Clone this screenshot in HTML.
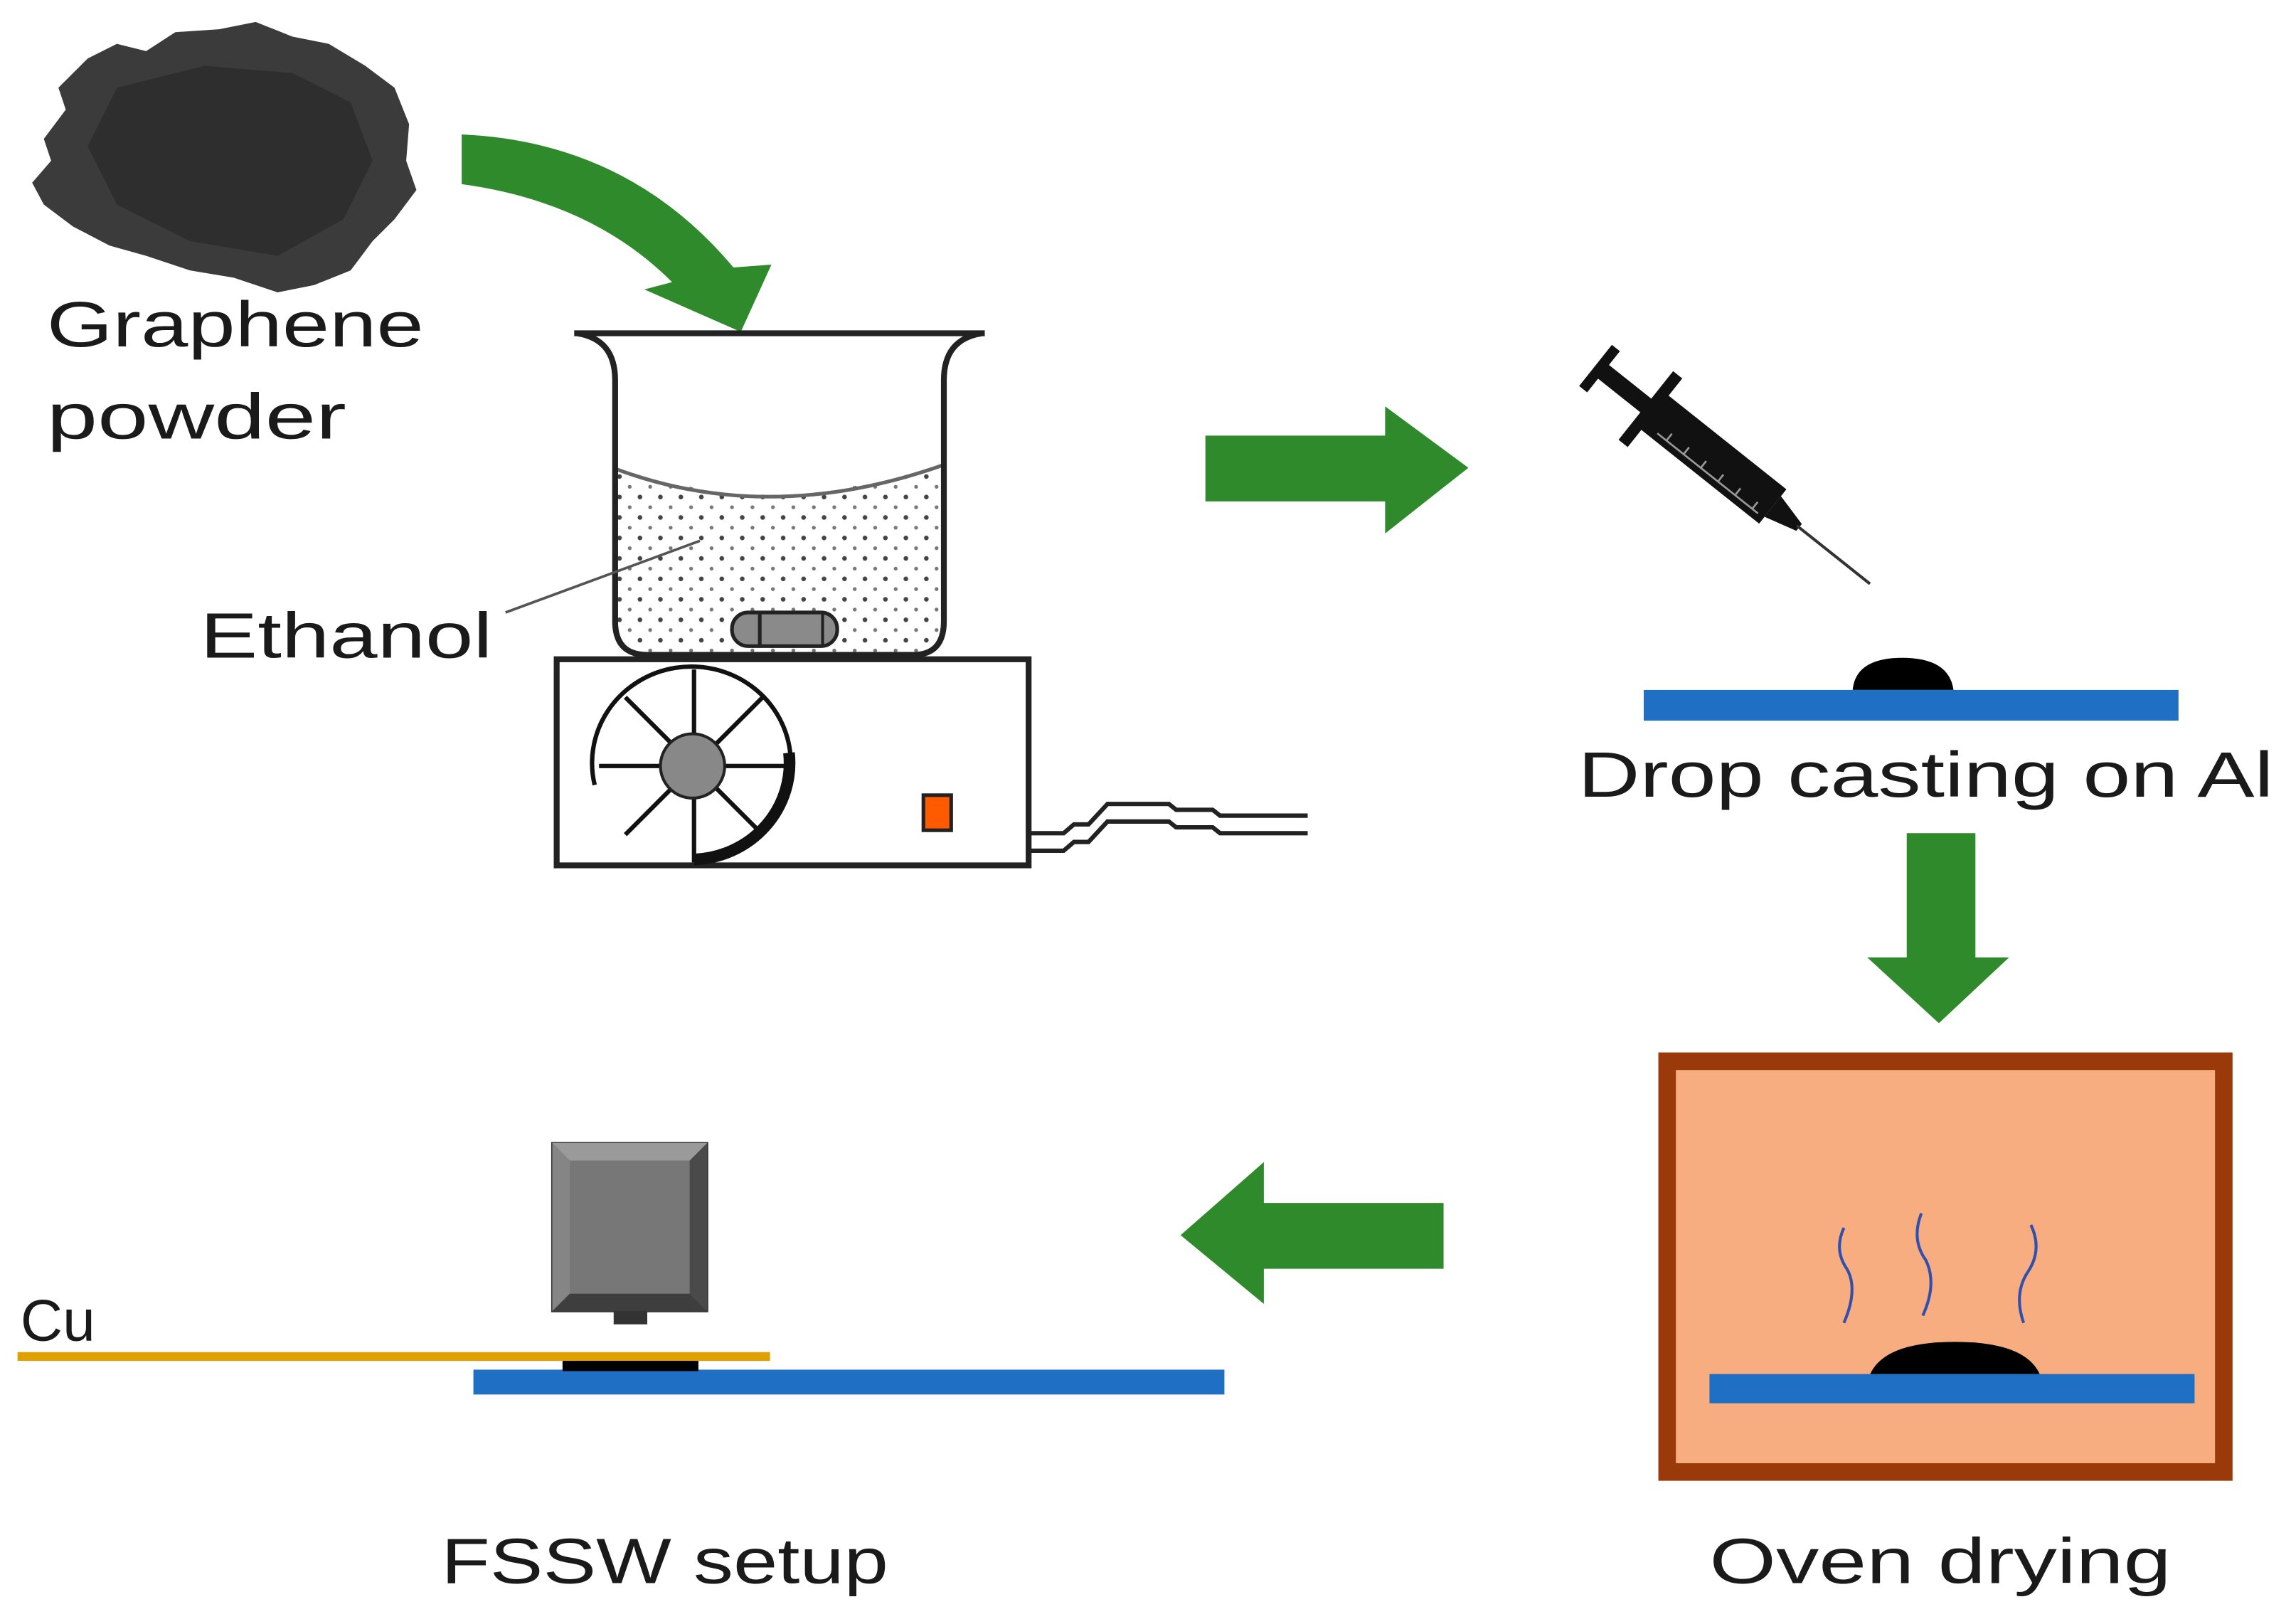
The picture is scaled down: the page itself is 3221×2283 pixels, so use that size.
<!DOCTYPE html>
<html><head><meta charset="utf-8"><style>html,body{margin:0;padding:0;background:#fff}svg{display:block}</style></head>
<body>
<svg width="3221" height="2283" viewBox="0 0 1568 1111" preserveAspectRatio="none" xmlns="http://www.w3.org/2000/svg" font-family="Liberation Sans, sans-serif">
<rect width="1568" height="1111" fill="#fff"/>
<!-- graphene powder -->
<path d="M60,40 L80,30 L100,35 L120,22 L150,20 L175,15 L200,25 L225,30 L250,45 L270,60 L280,85 L278,110 L285,130 L270,150 L255,165 L240,185 L215,195 L190,200 L160,190 L130,185 L100,175 L75,168 L50,155 L30,140 L22,125 L35,110 L30,95 L45,75 L40,60 Z" fill="#3b3b3b"/>
<path d="M80,60 L140,45 L200,50 L240,70 L255,110 L235,150 L190,175 L130,165 L80,140 L60,100 Z" fill="#2a2a2a" opacity="0.7"/>
<text x="32" y="237" font-size="44" fill="#1a1a1a" textLength="258" lengthAdjust="spacingAndGlyphs">Graphene</text>
<text x="32" y="300" font-size="44" fill="#1a1a1a" textLength="205" lengthAdjust="spacingAndGlyphs">powder</text>
<!-- curved arrow -->
<path d="M316,92 Q430,97 502,183 L528,181 L507,227 L441,198 L460,193 Q405,138 316,126 Z" fill="#2e8a2a"/>
<!-- beaker -->
<pattern id="dots" width="14" height="14" patternUnits="userSpaceOnUse"><circle cx="4" cy="4" r="1.6" fill="#444"/><circle cx="11" cy="11" r="1.3" fill="#777"/></pattern>
<path d="M422,321 Q527,355 646,318 L646,425 Q646,448 625,448 L443,448 Q422,448 422,425 Z" fill="url(#dots)"/>
<path d="M422,321 Q527,360 646,318" fill="none" stroke="#666" stroke-width="2.5"/>
<path d="M393,228 L674,228 M395,228 Q421,232 421,260 L421,425 Q421,448 443,448 L625,448 Q646,448 646,425 L646,260 Q646,232 672,228" fill="none" stroke="#222" stroke-width="4"/>
<rect x="501" y="419" width="72" height="23" rx="11" fill="#8a8a8a" stroke="#222" stroke-width="2.5"/>
<line x1="520" y1="419" x2="520" y2="442" stroke="#222" stroke-width="2.5"/>
<line x1="563" y1="419" x2="563" y2="442" stroke="#222" stroke-width="2"/>
<line x1="346" y1="419" x2="479" y2="370" stroke="#555" stroke-width="1.8"/>
<text x="137" y="450" font-size="44" fill="#1a1a1a" textLength="200" lengthAdjust="spacingAndGlyphs">Ethanol</text>
<!-- hot plate -->
<rect x="381" y="451" width="323" height="141" fill="#fff" stroke="#222" stroke-width="4"/>
<path d="M407,537 A68,66 0 1,1 475,588" fill="none" stroke="#111" stroke-width="3"/>
<path d="M475,588 A68,66 0 0,0 540,515" fill="none" stroke="#111" stroke-width="8"/>
<g stroke="#111" stroke-width="3">
<line x1="475" y1="458" x2="475" y2="590"/><line x1="410" y1="524" x2="540" y2="524"/>
<line x1="428" y1="477" x2="522" y2="571"/><line x1="522" y1="477" x2="428" y2="571"/>
</g>
<ellipse cx="474" cy="524" rx="22" ry="22" fill="#888" stroke="#222" stroke-width="2"/>
<rect x="632" y="544" width="19" height="24" fill="#ff5a00" stroke="#222" stroke-width="2.5"/>
<path d="M704,570 L728,570 L735,564 L745,564 L758,550 L800,550 L805,554 L830,554 L835,558 L895,558" fill="none" stroke="#222" stroke-width="3"/>
<path d="M704,582 L728,582 L735,576 L745,576 L758,562 L800,562 L805,566 L830,566 L835,570 L895,570" fill="none" stroke="#222" stroke-width="3"/>
<!-- right arrow -->
<path d="M825,298 L948,298 L948,278 L1005,320 L948,365 L948,343 L825,343 Z" fill="#2e8a2a"/>
<!-- syringe -->
<g transform="translate(1092,250) rotate(38.5)">
<rect x="0" y="-18" width="7" height="36" fill="#111"/>
<rect x="5" y="-6" width="42" height="12" fill="#111"/>
<rect x="44" y="-30" width="8" height="60" fill="#111"/>
<rect x="50" y="-15" width="105" height="30" fill="#111"/>
<g stroke="#999" stroke-width="1.3"><line x1="62" y1="10" x2="150" y2="10"/><line x1="70" y1="4" x2="70" y2="10"/><line x1="85" y1="4" x2="85" y2="10"/><line x1="100" y1="4" x2="100" y2="10"/><line x1="115" y1="4" x2="115" y2="10"/><line x1="130" y1="4" x2="130" y2="10"/><line x1="145" y1="4" x2="145" y2="10"/></g>
<path d="M155,-9 L178,-3 L178,3 L155,9 Z" fill="#111"/>
<line x1="176" y1="0" x2="240" y2="0" stroke="#333" stroke-width="2"/>
</g>
<!-- drop casting -->
<path d="M1268,472 Q1270,450 1302,450 Q1334,450 1337,472 Z" fill="#000"/>
<rect x="1125" y="472" width="366" height="21" fill="#1f6fc5"/>
<text x="1080" y="545" font-size="44" fill="#1a1a1a" textLength="476" lengthAdjust="spacingAndGlyphs">Drop casting on Al</text>
<!-- down arrow -->
<path d="M1305,570 L1352,570 L1352,655 L1375,655 L1327,700 L1278,655 L1305,655 Z" fill="#2e8a2a"/>
<!-- oven -->
<rect x="1141" y="726" width="381" height="281" fill="#f8ad80" stroke="#9a3a0a" stroke-width="12"/>
<g fill="none" stroke="#3050b0" stroke-width="2">
<path d="M1262,840 Q1255,855 1264,868 Q1272,882 1262,905"/>
<path d="M1315,830 Q1308,848 1318,862 Q1326,878 1316,900"/>
<path d="M1390,838 Q1398,855 1388,870 Q1378,885 1385,905"/>
</g>
<path d="M1280,940 Q1290,918 1338,918 Q1386,918 1396,940 Z" fill="#000"/>
<rect x="1170" y="940" width="332" height="20" fill="#1f6fc5"/>
<text x="1170" y="1083" font-size="44" fill="#1a1a1a" textLength="316" lengthAdjust="spacingAndGlyphs">Oven drying</text>
<!-- left arrow -->
<path d="M988,823 L865,823 L865,795 L808,845 L865,892 L865,868 L988,868 Z" fill="#2e8a2a"/>
<!-- FSSW -->
<rect x="378" y="782" width="106" height="115" fill="#6b6b6b" stroke="#333" stroke-width="1.5"/>
<path d="M378,782 L484,782 L472,794 L390,794 Z" fill="#9a9a9a"/>
<path d="M378,782 L390,794 L390,885 L378,897 Z" fill="#858585"/>
<path d="M484,782 L472,794 L472,885 L484,897 Z" fill="#4a4a4a"/>
<path d="M378,897 L390,885 L472,885 L484,897 Z" fill="#3e3e3e"/>
<rect x="390" y="794" width="82" height="91" fill="#777"/>
<rect x="420" y="897" width="23" height="9" fill="#333"/>
<rect x="324" y="937" width="514" height="17" fill="#1f6fc5"/>
<rect x="385" y="930" width="93" height="8" fill="#000"/>
<rect x="12" y="925" width="515" height="6" fill="#e0a000"/>
<text x="14" y="917" font-size="40" fill="#1a1a1a">Cu</text>
<text x="302" y="1083" font-size="44" fill="#1a1a1a" textLength="306" lengthAdjust="spacingAndGlyphs">FSSW setup</text>
</svg>
</body></html>
